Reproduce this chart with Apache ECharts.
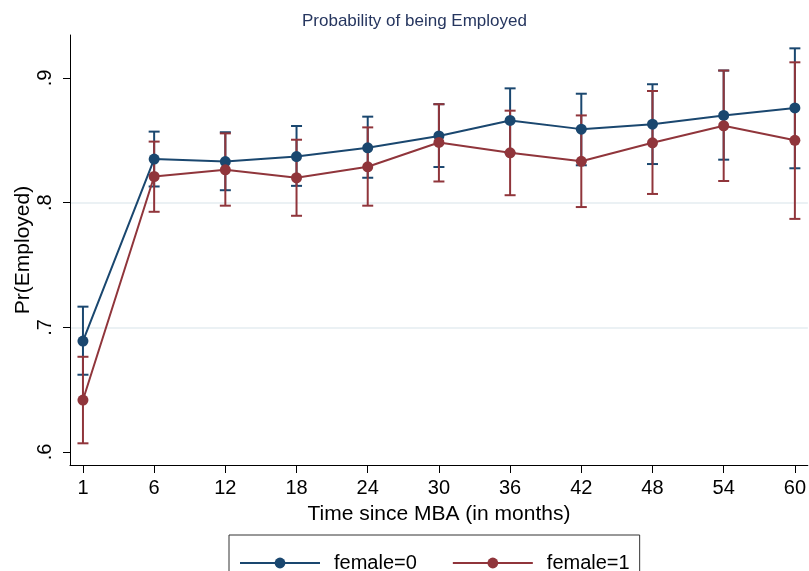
<!DOCTYPE html>
<html>
<head>
<meta charset="utf-8">
<script src="https://cdn.jsdelivr.net/npm/echarts@6/dist/echarts.min.js"></script>
<style>
  html, body { margin: 0; padding: 0; background: #fff; }
  #chart { width: 809px; height: 571px; }
</style>
</head>
<body>
<div id="chart"></div>
<script>
// Months since graduation (evenly spaced categories)
const months = ['1', '6', '12', '18', '24', '30', '36', '42', '48', '54', '60'];

// Predicted probability of employment, men (female=0)
const male = [0.689, 0.835, 0.833, 0.837, 0.844, 0.8535, 0.866, 0.859, 0.863, 0.870, 0.876];
const maleLo = [0.662, 0.813, 0.810, 0.8135, 0.820, 0.8286, 0.840, 0.830, 0.831, 0.8345, 0.8276];
const maleHi = [0.7166, 0.857, 0.8565, 0.8615, 0.869, 0.879, 0.8917, 0.8874, 0.895, 0.906, 0.9238];

// Predicted probability of employment, women (female=1)
const female = [0.6417, 0.821, 0.8264, 0.820, 0.8288, 0.8483, 0.840, 0.8332, 0.848, 0.8617, 0.850];
const femaleLo = [0.607, 0.7927, 0.7976, 0.7895, 0.7976, 0.817, 0.806, 0.7965, 0.807, 0.8174, 0.787];
const femaleHi = [0.6764, 0.849, 0.8556, 0.8505, 0.8604, 0.879, 0.8738, 0.870, 0.8896, 0.906, 0.9126];

// Y axis tick values and their printed labels
const yTicks = [0.6, 0.7, 0.8, 0.9];
const yTickLabels = ['.6', '.7', '.8', '.9'];

const NAVY = '#1a476f';
const MAROON = '#90353b';
const FONT = '"Liberation Sans", Arial, Helvetica, sans-serif';

const idx = months.map((_, i) => i);

// Confidence interval whiskers with end caps
function ciSeries(name, lo, hi, color) {
  return {
    type: 'custom',
    name: name,
    silent: true,
    data: idx.map(i => [i, lo[i], hi[i]]),
    renderItem: function (params, api) {
      const x = api.value(0);
      const pLo = api.coord([x, api.value(1)]);
      const pHi = api.coord([x, api.value(2)]);
      const cap = 5.5;
      const style = { stroke: color, lineWidth: 2, fill: null };
      return {
        type: 'group',
        children: [
          { type: 'line', shape: { x1: pLo[0], y1: pLo[1], x2: pHi[0], y2: pHi[1] }, style: style },
          { type: 'line', shape: { x1: pLo[0] - cap, y1: pLo[1], x2: pLo[0] + cap, y2: pLo[1] }, style: style },
          { type: 'line', shape: { x1: pHi[0] - cap, y1: pHi[1], x2: pHi[0] + cap, y2: pHi[1] }, style: style }
        ]
      };
    }
  };
}

function lineSeries(name, vals, color) {
  return {
    type: 'line',
    name: name,
    data: idx.map(i => [i, vals[i]]),
    symbol: 'circle',
    symbolSize: 11,
    showSymbol: true,
    lineStyle: { color: color, width: 2 },
    itemStyle: { color: color },
    emphasis: { disabled: true },
    animation: false
  };
}

const chart = echarts.init(document.getElementById('chart'), null, { renderer: 'canvas' });

chart.setOption({
  animation: false,
  backgroundColor: '#ffffff',
  textStyle: { fontFamily: FONT },
  title: {
    text: 'Probability of being Employed',
    left: 297,
    top: 8,
    textStyle: { fontFamily: FONT, fontSize: 17, fontWeight: 'normal', color: '#26365f' }
  },
  grid: { left: 70, right: 0, top: 35, bottom: 106, containLabel: false },
  xAxis: {
    type: 'value',
    min: -0.182,
    max: 10.182,
    name: 'Time since MBA (in months)',
    nameLocation: 'middle',
    nameGap: 39,
    nameMoveOverlap: false,
    nameTextStyle: { fontFamily: FONT, fontSize: 21, color: '#000' },
    axisLine: { show: true, onZero: false, lineStyle: { color: '#000', width: 1 } },
    axisTick: { show: true, length: 8, lineStyle: { color: '#000', width: 1 }, customValues: idx },
    axisLabel: {
      customValues: idx,
      margin: 13,
      fontFamily: FONT,
      fontSize: 20,
      color: '#000',
      formatter: v => months[Math.round(v)]
    },
    splitLine: { show: false }
  },
  yAxis: {
    type: 'value',
    min: 0.5896,
    max: 0.9345,
    name: 'Pr(Employed)',
    nameLocation: 'middle',
    nameRotate: 90,
    nameGap: 36,
    nameMoveOverlap: false,
    nameTextStyle: { fontFamily: FONT, fontSize: 21, color: '#000' },
    axisLine: { show: true, onZero: false, lineStyle: { color: '#000', width: 1 } },
    axisTick: { show: true, length: 7, lineStyle: { color: '#000', width: 1 }, customValues: yTicks },
    axisLabel: {
      customValues: yTicks,
      rotate: 90,
      margin: 15,
      fontFamily: FONT,
      fontSize: 20,
      color: '#000',
      formatter: v => {
        const k = yTicks.findIndex(t => Math.abs(t - v) < 1e-6);
        return k >= 0 ? yTickLabels[k] : '';
      }
    },
    splitLine: { show: true, showMinLine: false, showMaxLine: false, lineStyle: { color: '#e4ecf0', width: 1.5 } }
  },
  legend: {
    data: ['female=0', 'female=1'],
    left: 229,
    top: 535,
    orient: 'horizontal',
    itemWidth: 80,
    itemHeight: 13.5,
    itemGap: 35,
    padding: [18, 10, 22, 10],
    borderColor: '#333',
    borderWidth: 1,
    selectedMode: false,
    textStyle: { fontFamily: FONT, fontSize: 20, color: '#000', padding: [0, 0, 0, 9] }
  },
  series: [
    ciSeries('ci0', maleLo, maleHi, NAVY),
    ciSeries('ci1', femaleLo, femaleHi, MAROON),
    lineSeries('female=0', male, NAVY),
    lineSeries('female=1', female, MAROON)
  ]
});
</script>
</body>
</html>
